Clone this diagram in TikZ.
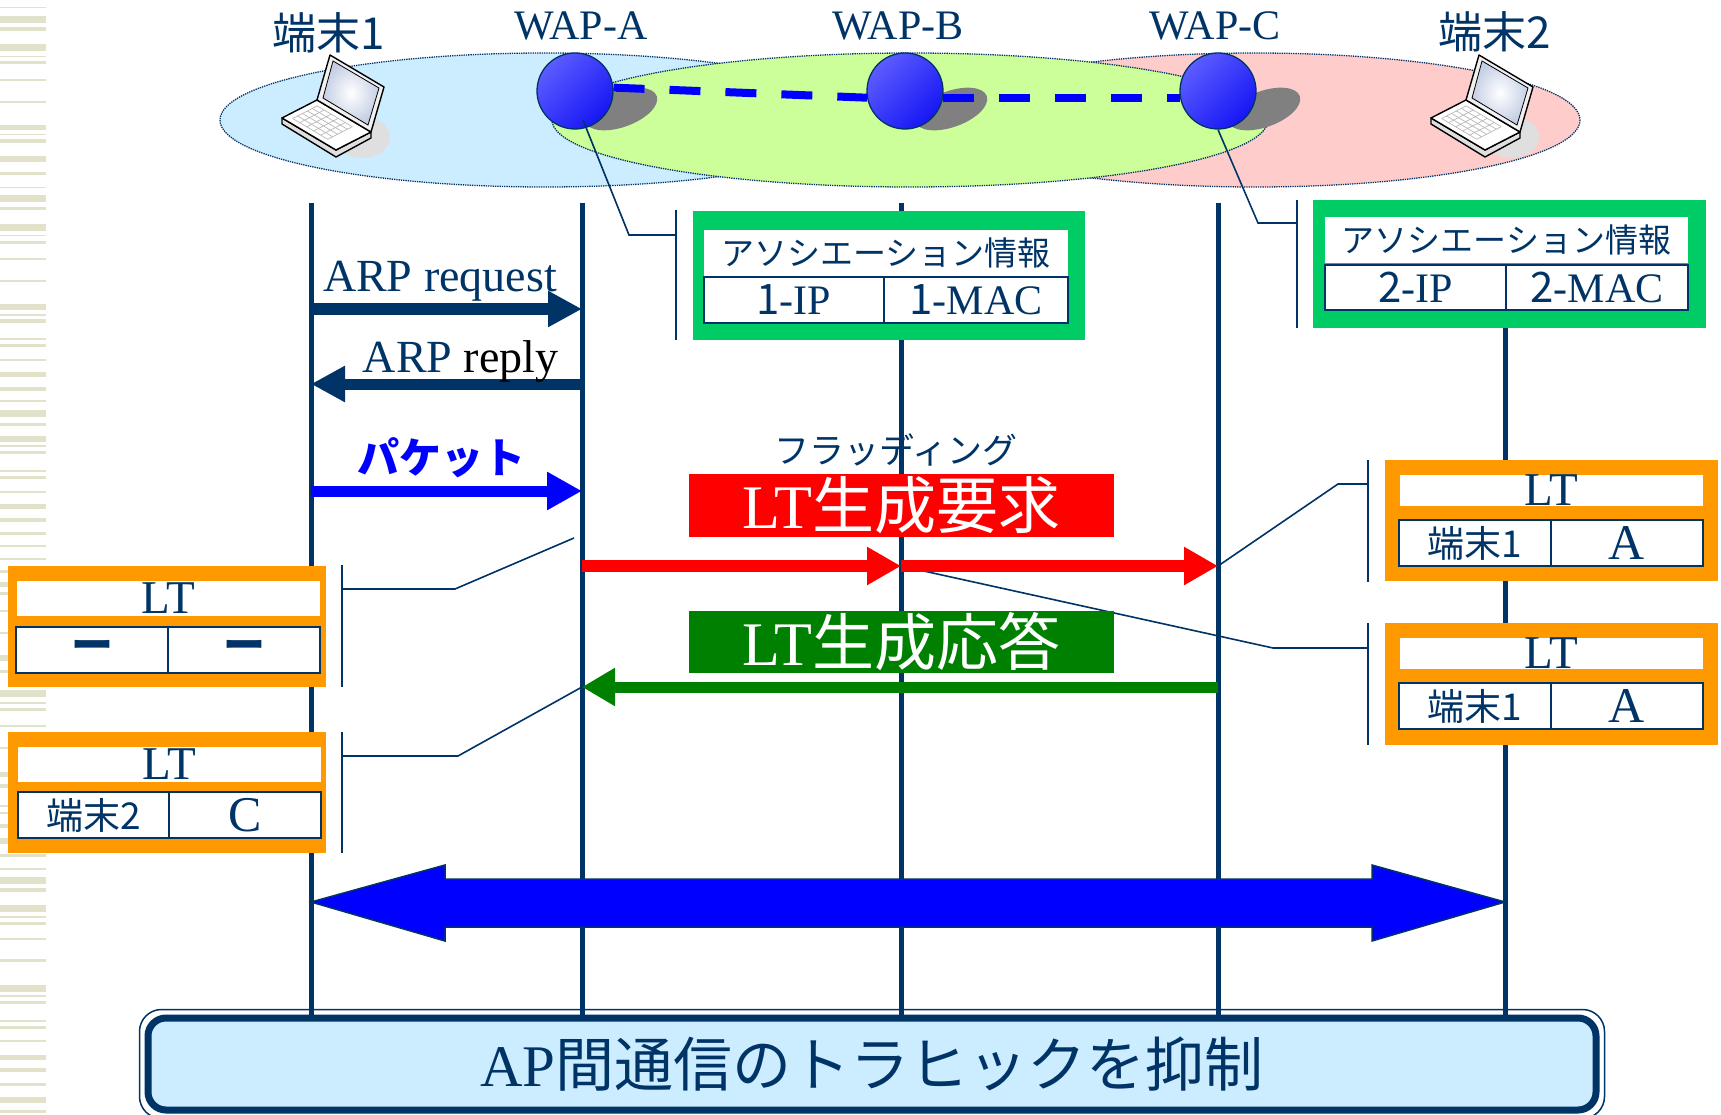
\documentclass[tikz,border=0pt]{standalone}
\usepackage{fontspec}
\setmainfont{Liberation Serif}
\newfontfamily\jp{Noto Sans CJK JP}
\usetikzlibrary{arrows.meta}

\definecolor{navy}{RGB}{0,51,102}
\definecolor{areaBlue}{RGB}{204,236,255}
\definecolor{areaGreen}{RGB}{204,255,153}
\definecolor{areaPink}{RGB}{255,204,204}
\definecolor{assocGreen}{RGB}{0,204,102}
\definecolor{ltOrange}{RGB}{255,153,0}
\definecolor{respGreen}{RGB}{0,128,0}
\definecolor{wapLight}{RGB}{92,92,255}
\definecolor{wapDark}{RGB}{22,22,245}
\definecolor{stripe}{RGB}{226,225,202}
\definecolor{screenTint}{RGB}{196,206,228}

\newcommand{\setfs}[1]{\fontsize{#1}{#1}\selectfont}

\tikzset{
  % coverage area of one access point
  area/.style = {draw=navy, densely dotted, line width=1.3pt},
  wap/.style = {circle, draw=navy, line width=1.3pt, minimum size=76pt, inner sep=0pt,
                top color=wapLight, bottom color=wapDark, shading angle=45},
  wap_shadow/.style = {fill=gray},
  wds_link/.style = {draw=blue, line width=8pt, dash pattern=on 31pt off 25pt},
  top_label/.style = {navy, font=\setfs{42}},
  lifeline/.style = {draw=navy, line width=5pt},
  callout/.style = {draw=navy, line width=1.6pt},
  % frames of the tables
  assoc_frame/.style = {fill=assocGreen, inner sep=0pt},
  lt_frame/.style = {fill=ltOrange, inner sep=0pt},
  title_cell/.style = {fill=white, inner sep=0pt, text=navy},
  row_cell/.style = {fill=white, draw=navy, line width=2pt, inner sep=0pt, text=navy},
  % messages
  msg_arp/.style = {navy, line width=11pt, -{Triangle[length=34pt, width=34pt]}},
  msg_pkt/.style = {blue, line width=11pt, -{Triangle[length=35pt, width=36pt]}},
  msg_req/.style = {red, line width=12pt, -{Triangle[length=34pt, width=36pt]}},
  msg_resp/.style = {respGreen, line width=11pt, -{Triangle[length=33pt, width=36pt]}},
  msg_tag/.style = {inner sep=0pt, minimum width=425pt, text=white, font=\setfs{62}},
  big_arrow/.style = {fill=blue, draw=navy, line width=1.5pt, line join=miter},
  keyline/.style = {draw=gray!55, line width=0.7pt},
  laptop/.pic = {
    % shadow under the machine
    \fill[gray!25] (29,32) ellipse [x radius=28, y radius=21];
    % base slab
    \draw[line width=1.4pt, fill=gray!25, line join=round]
      (-51,13) -- (-51,19) -- (3,52) -- (38,33) -- (38,27) -- (3,45) -- cycle;
    % keyboard deck
    \draw[line width=1.4pt, fill=white, line join=round]
      (-51,13) -- (-16,-5) -- (38,27) -- (3,45) -- cycle;
    \foreach \ka in {0.15,0.29,...,0.86}
      \draw[keyline] ({-51+35*\ka+54*0.1},{13-18*\ka+32*0.1}) -- ({-51+35*\ka+54*0.75},{13-18*\ka+32*0.75});
    \foreach \kb in {0.1,0.23,...,0.76}
      \draw[keyline] ({-51+35*0.15+54*\kb},{13-18*0.15+32*\kb}) -- ({-51+35*0.85+54*\kb},{13-18*0.85+32*\kb});
    % screen
    \draw[line width=1.4pt, fill=gray!12, line join=round]
      (-16,-5) -- (-3,-50) -- (51,-18) -- (38,27) -- cycle;
    \shade[inner color=white, outer color=screenTint, draw=black, line width=0.8pt]
      (-10,-7) -- (0,-44) -- (46,-17) -- (35,20) -- cycle;
  }
}

\begin{document}
\begin{tikzpicture}[x=1pt, y=-1pt]
  \useasboundingbox (0,0) rectangle (1721,1115);

  % Background - stripes on the left edge:
  \foreach \y/\h in {7/1.5,16/7,27/4,44/7,56/1.5,61/3,79/2,101/2.5,125/5,134/1.5,139/4,156/6,
      172/3,187/1.5,195/7,207/3,224/7,235/1.5,241/3,258/2,280/2.5,304/6,314/1.5,319/4,338/2,
      344/3,359/2,372/5,387/4,400/1.5,410/7,423/3,436/6,445/1.5,451/3,470/2,476/3,491/2,504/5,
      518/4,532/3,545/2,558/2,570/3,582/5,592/3,610/2,632/2,655/6,670/3,690/7,702/1.5,708/3,
      725/2,747/2,772/5,784/4,805/2,812/2,824/4,838/6,854/3,868/2,877/7,888/4,905/7,916/1.5,
      922/3,938/2,959/3,985/7,995/2,1001/3,1020/2,1026/3,1040/2,1055/5,1068/4,1083/3,1097/6,1110/3}
    \fill[stripe] (0,\y) rectangle (46,{\y+\h});

  % Layer 0 - coverage areas:
  \path[area, fill=areaBlue] (545,120) ellipse [x radius=325, y radius=67];
  \path[area, fill=areaPink] (1255,120) ellipse [x radius=325, y radius=67];
  \path[area, fill=areaGreen] (910,120) ellipse [x radius=358, y radius=67];

  % Layer 0 - access points and their shadows:
  \fill[wap_shadow, rotate around={20:(621,109)}] (621,109) ellipse [x radius=38, y radius=18];
  \fill[wap_shadow, rotate around={20:(951,109)}] (951,109) ellipse [x radius=38, y radius=18];
  \fill[wap_shadow, rotate around={20:(1264,109)}] (1264,109) ellipse [x radius=38, y radius=18];
  \node[wap] (wapA) at (575,91) {};
  \node[wap] (wapB) at (905,91) {};
  \node[wap] (wapC) at (1218,91) {};
  \draw[wds_link] (wapA.5) -- (wapB.190);
  \draw[wds_link] (wapB.350) -- (wapC.190);

  % Layer 0 - terminals:
  \pic at (333,105) {laptop};
  \pic at (1482,105) {laptop};

  % Layer 0 - names:
  \node[navy, font=\jp\setfs{44}] (lbl_t1) at (329,33) {端末1};
  \node[top_label, anchor=base] (lbl_wa) at (581,40) {WAP-A};
  \node[top_label, anchor=base] (lbl_wb) at (898,40) {WAP-B};
  \node[top_label, anchor=base] (lbl_wc) at (1215,40) {WAP-C};
  \node[navy, font=\jp\setfs{44}] (lbl_t2) at (1495,32) {端末2};

  % Layer 1 - lifelines:
  \coordinate (l_t1) at (311,203);
  \coordinate (l_a) at (582,203);
  \coordinate (l_b) at (901,203);
  \coordinate (l_c) at (1218,203);
  \coordinate (l_t2) at (1505,203);
  \coordinate (y_end) at (0,1015);
  \foreach \l in {l_t1,l_a,l_b,l_c,l_t2}
    \draw[lifeline] (\l) -- (\l |- y_end);

  % rows of the messages
  \coordinate (y_req) at (0,309);
  \coordinate (y_rep) at (0,384);
  \coordinate (y_pkt) at (0,491);
  \coordinate (y_flood) at (0,566);
  \coordinate (y_resp) at (0,687);
  \coordinate (y_big) at (0,902);

  % Layer 1 - callouts:
  \draw[callout] (676,210) -- (676,340);
  \draw[callout] ([shift={(8,29)}]wapA.center) -- (629,235) -- (676,235);
  \draw[callout] (1297,200) -- (1297,328);
  \draw[callout] (wapC.south) -- (1258,223) -- (1297,223);
  \draw[callout] (342,565) -- (342,687);
  \draw[callout] (342,589) -- (455,589) -- (574,538);
  \draw[callout] (342,732) -- (342,853);
  \draw[callout] (342,756) -- (458,756) -- (l_a |- y_resp);
  \draw[callout] (1368,460) -- (1368,582);
  \draw[callout] (l_c |- y_flood) -- (1338,484) -- (1368,484);
  \draw[callout] (1368,623) -- (1368,745);
  \draw[callout] (l_b |- y_flood) -- (1273,648) -- (1368,648);

  % Layer 2 - association info of WAP-A:
  \node[assoc_frame, minimum width=392pt, minimum height=129pt] (assoc1) at (889,275.5) {};
  \node[title_cell, minimum width=364pt, minimum height=46pt, font=\jp\setfs{33}] (assoc1_title) at (886,253) {アソシエーション情報};
  \node[row_cell, minimum width=180pt, minimum height=46pt, font=\setfs{42}] (assoc1_ip) at (794,300) {{\jp 1}-IP};
  \node[row_cell, minimum width=184pt, minimum height=46pt, font=\setfs{42}] (assoc1_mac) at (976,300) {{\jp 1}-MAC};
  % Layer 2 - association info of WAP-C:
  \node[assoc_frame, minimum width=393pt, minimum height=128pt] (assoc2) at (1509.5,264) {};
  \node[title_cell, minimum width=363pt, minimum height=46pt, font=\jp\setfs{33}] (assoc2_title) at (1506.5,240) {アソシエーション情報};
  \node[row_cell, minimum width=181pt, minimum height=45pt, font=\setfs{42}] (assoc2_ip) at (1415.5,287.5) {{\jp 2}-IP};
  \node[row_cell, minimum width=182pt, minimum height=45pt, font=\setfs{42}] (assoc2_mac) at (1597,287.5) {{\jp 2}-MAC};

  % Layer 2 - LT of WAP-A, empty:
  \node[lt_frame, minimum width=318pt, minimum height=121pt] (lt_a1) at (167,626.5) {};
  \node[title_cell, minimum width=303pt, minimum height=35pt, font=\setfs{47}] (lt_a1_title) at (168.5,598.5) {LT};
  \node[row_cell, minimum width=152pt, minimum height=46pt, font=\jp\bfseries\setfs{42}] (lt_a1_host) at (92,650) {ー};
  \node[row_cell, minimum width=152pt, minimum height=46pt, font=\jp\bfseries\setfs{42}] (lt_a1_ap) at (244,650) {ー};
  % Layer 2 - LT of WAP-A, after the reply:
  \node[lt_frame, minimum width=318pt, minimum height=121pt] (lt_a2) at (167,792.5) {};
  \node[title_cell, minimum width=303pt, minimum height=35pt, font=\setfs{47}] (lt_a2_title) at (169.5,764.5) {LT};
  \node[row_cell, minimum width=151pt, minimum height=46pt, font=\jp\setfs{37}] (lt_a2_host) at (93.5,815) {端末2};
  \node[row_cell, minimum width=152pt, minimum height=46pt, font=\setfs{50}] (lt_a2_ap) at (245,815) {C};
  % Layer 2 - LT of WAP-C:
  \node[lt_frame, minimum width=333pt, minimum height=121pt] (lt_c) at (1551.5,520.5) {};
  \node[title_cell, minimum width=303pt, minimum height=31pt, font=\setfs{47}] (lt_c_title) at (1551.5,490.5) {LT};
  \node[row_cell, minimum width=152pt, minimum height=46pt, font=\jp\setfs{37}] (lt_c_host) at (1475,543) {端末1};
  \node[row_cell, minimum width=152pt, minimum height=46pt, font=\setfs{50}] (lt_c_ap) at (1627,543) {A};
  % Layer 2 - LT of WAP-B:
  \node[lt_frame, minimum width=333pt, minimum height=122pt] (lt_b) at (1551.5,684) {};
  \node[title_cell, minimum width=303pt, minimum height=31pt, font=\setfs{47}] (lt_b_title) at (1551.5,653.5) {LT};
  \node[row_cell, minimum width=152pt, minimum height=46pt, font=\jp\setfs{37}] (lt_b_host) at (1475,706) {端末1};
  \node[row_cell, minimum width=152pt, minimum height=46pt, font=\setfs{50}] (lt_b_ap) at (1627,706) {A};

  % Layer 3 - ARP and packet:
  \draw[msg_arp] (l_t1 |- y_req) -- (l_a |- y_req);
  \node[navy, font=\setfs{46}, anchor=base] (lbl_req) at (440,292) {ARP request};
  \draw[msg_arp] (l_a |- y_rep) -- (l_t1 |- y_rep);
  \node[font=\setfs{46}, anchor=base east] (lbl_rep) at (562,372) {\textcolor{navy}{ARP} reply};
  \draw[msg_pkt] (l_t1 |- y_pkt) -- (l_a |- y_pkt);
  \node[blue, font=\jp\bfseries\setfs{42}] (lbl_pkt) at (441,458) {パケット};

  % Layer 3 - flooding of the LT request:
  \node[navy, font=\jp\setfs{35}] (lbl_flood) at (896,450) {フラッディング};
  \node[msg_tag, fill=red, minimum height=63pt] (tag_req) at (901.5,505.5) {LT{\jp 生成要求}};
  \draw[msg_req] (l_a |- y_flood) -- (l_b |- y_flood);
  \draw[msg_req] (l_b |- y_flood) -- (l_c |- y_flood);

  % Layer 3 - LT response:
  \node[msg_tag, fill=respGreen, minimum height=62pt] (tag_resp) at (901.5,642) {LT{\jp 生成応答}};
  \draw[msg_resp] (l_c |- y_resp) -- (l_a |- y_resp);

  % Layer 3 - direct traffic between the terminals:
  \draw[big_arrow] (l_t1 |- y_big) -- ++(134,-37) -- ++(0,14) -- ++(927,0) -- ++(0,-14)
    -- (l_t2 |- y_big) -- ++(-133,39) -- ++(0,-14) -- ++(-927,0) -- ++(0,14) -- cycle;

  % Layer 4 - summary:
  \node[draw=navy, line width=7pt, fill=areaBlue, rounded corners=18pt,
        minimum width=1448pt, minimum height=92pt, text=navy, font=\setfs{59}]
        (summary) at (872,1064) {AP{\jp 間通信のトラヒックを抑制}};
  \draw[navy, line width=1.5pt, rounded corners=22pt]
    ([shift={(-5,-5)}]summary.north west) rectangle ([shift={(5,5)}]summary.south east);
\end{tikzpicture}
\end{document}
